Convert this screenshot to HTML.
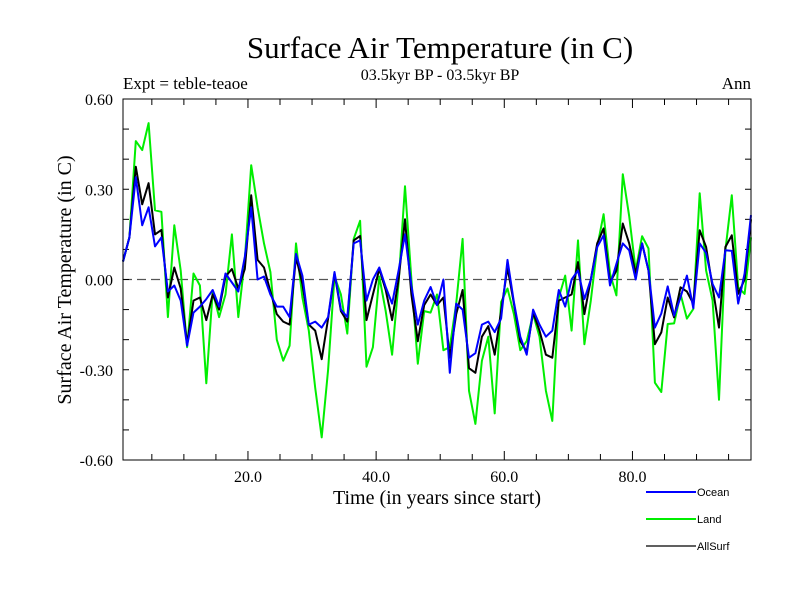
<!DOCTYPE html>
<html><head><meta charset="utf-8"><style>
body{margin:0;background:#fff;width:800px;height:600px;overflow:hidden}
svg text{font-family:"Liberation Serif",serif;fill:#000}
</style></head><body>
<svg id="chart" width="800" height="600" xmlns="http://www.w3.org/2000/svg">
<text x="440" y="58" font-size="31" text-anchor="middle">Surface Air Temperature (in C)</text>
<text x="440" y="80" font-size="16" text-anchor="middle">03.5kyr BP - 03.5kyr BP</text>
<text x="123" y="89" font-size="17">Expt = teble-teaoe</text>
<text x="751" y="89" font-size="17" text-anchor="end">Ann</text>
<text transform="translate(71,280) rotate(-90)" font-size="20" text-anchor="middle">Surface Air Temperature (in C)</text>
<text x="437" y="504" font-size="20" text-anchor="middle">Time (in years since start)</text>
<g id="axes"></g>
<g id="series"></g>
<rect x="123" y="99" width="628" height="361" fill="none" stroke="#000" stroke-width="1"/>
<g id="legend"></g>
</svg>
<script>
const yTicks=[0.6,0.3,0,-0.3,-0.6];
const yTickLabels=["0.60","0.30","0.00","-0.30","-0.60"];
const xTicks=[20,40,60,80];
const xTickLabels=["20.0","40.0","60.0","80.0"];
const seriesNames=["Land","AllSurf","Ocean"];
const ocean=[0.06,0.14,0.34,0.18,0.24,0.11,0.14,-0.04,-0.02,-0.07,-0.22,-0.11,-0.09,-0.065,-0.035,-0.09,0.02,-0.01,-0.04,0.075,0.24,0.0,0.01,-0.05,-0.09,-0.09,-0.125,0.085,0.013,-0.15,-0.14,-0.16,-0.125,0.025,-0.10,-0.125,0.12,0.13,-0.07,0.0,0.04,-0.025,-0.08,0.03,0.15,-0.02,-0.15,-0.07,-0.025,-0.085,0.0,-0.31,-0.08,-0.10,-0.26,-0.245,-0.15,-0.14,-0.175,-0.13,0.065,-0.075,-0.19,-0.25,-0.10,-0.15,-0.19,-0.17,-0.035,-0.09,0.0,0.03,-0.065,0.0,0.108,0.147,-0.02,0.052,0.12,0.097,0.0,0.12,0.03,-0.16,-0.113,-0.023,-0.12,-0.06,0.013,-0.095,0.12,0.088,-0.015,-0.06,0.097,0.095,-0.08,0.02,0.214];
const allsurf=[0.06,0.14,0.375,0.25,0.32,0.15,0.165,-0.06,0.04,-0.03,-0.215,-0.07,-0.06,-0.135,-0.05,-0.10,0.01,0.035,-0.03,0.035,0.28,0.065,0.04,-0.04,-0.115,-0.14,-0.15,0.075,-0.015,-0.15,-0.17,-0.265,-0.13,0.02,-0.105,-0.14,0.13,0.145,-0.135,-0.05,0.035,-0.035,-0.135,0.0,0.2,-0.05,-0.205,-0.085,-0.05,-0.085,-0.06,-0.26,-0.115,-0.035,-0.295,-0.31,-0.19,-0.155,-0.25,-0.105,0.04,-0.08,-0.205,-0.24,-0.11,-0.17,-0.25,-0.26,-0.07,-0.06,-0.05,0.058,-0.115,0.0,0.12,0.17,-0.01,0.03,0.186,0.12,0.02,0.12,0.03,-0.215,-0.176,-0.06,-0.126,-0.026,-0.04,-0.08,0.164,0.108,-0.026,-0.16,0.108,0.147,-0.048,0.0,0.2];
const land=[0.06,0.14,0.46,0.43,0.52,0.23,0.225,-0.125,0.18,0.03,-0.225,0.02,-0.02,-0.345,-0.04,-0.125,-0.05,0.15,-0.125,0.065,0.38,0.24,0.12,0.025,-0.2,-0.27,-0.22,0.12,-0.06,-0.17,-0.36,-0.525,-0.30,0.01,-0.05,-0.18,0.135,0.195,-0.29,-0.225,0.01,-0.105,-0.25,-0.01,0.31,0.0,-0.28,-0.105,-0.11,-0.05,-0.235,-0.225,-0.08,0.135,-0.37,-0.48,-0.27,-0.19,-0.445,-0.075,-0.03,-0.115,-0.235,-0.205,-0.115,-0.19,-0.37,-0.47,-0.06,0.013,-0.17,0.13,-0.215,-0.07,0.108,0.217,0.02,-0.053,0.35,0.21,0.03,0.144,0.103,-0.343,-0.374,-0.148,-0.146,-0.048,-0.13,-0.098,0.287,0.03,-0.07,-0.4,0.097,0.28,-0.026,-0.048,0.14];
const NS="http://www.w3.org/2000/svg";
const L=123,R=751,T=99,B=460;
const xMin=0.5,xMax=98.5,yMin=-0.6,yMax=0.6;
function xs(v){return L+(v-xMin)/(xMax-xMin)*(R-L);}
function ys(v){return B-(v-yMin)/(yMax-yMin)*(B-T);}
function mk(tag,attrs,parent){const e=document.createElementNS(NS,tag);for(const k in attrs)e.setAttribute(k,attrs[k]);parent.appendChild(e);return e;}
const axes=document.getElementById('axes');
// zero line
const z=mk('line',{x1:L,x2:R,y1:ys(0),y2:ys(0),stroke:'#555','stroke-width':1.2,'stroke-dasharray':'9,5'},axes);


// y minor ticks every 0.1
for(let k=-6;k<=6;k++){const v=k/10;
 const t1=mk('line',{x1:L,x2:L+6,y1:ys(v),y2:ys(v),stroke:'#000'},axes);
 
 
 const t2=mk('line',{x1:R-6,x2:R,y1:ys(v),y2:ys(v),stroke:'#000'},axes);
 
 }
yTicks.forEach((v,i)=>{const t=mk('text',{x:113,y:ys(v)+6,'font-size':16,'text-anchor':'end'},axes);t.textContent=yTickLabels[i];
 
 });
for(let yr=5;yr<=95;yr+=5){const len=(yr%20===0)?9:6;
 const t1=mk('line',{x1:xs(yr),x2:xs(yr),y1:B,y2:B-len,stroke:'#000'},axes);
 
 
 const t2=mk('line',{x1:xs(yr),x2:xs(yr),y1:T,y2:T+len,stroke:'#000'},axes);
 
 }
xTicks.forEach((v,i)=>{const t=mk('text',{x:xs(v),y:482,'font-size':16,'text-anchor':'middle'},axes);t.textContent=xTickLabels[i];
 
 });
const sg=document.getElementById('series');
function draw(arr,color,w,name){const pts=arr.map((v,i)=>xs(i+0.5).toFixed(1)+','+ys(v).toFixed(1)).join(' ');
 const p=mk('polyline',{points:pts,fill:'none',stroke:color,'stroke-width':w,'stroke-linejoin':'round'},sg);
 
 }
draw(land,'#00ee00',2,'land-line');
draw(allsurf,'#000',2,'allsurf-line');
draw(ocean,'#0000ff',2,'ocean-line');
const lg=document.getElementById('legend');
const legendItems=[["Ocean","#0000ff",492,2],["Land","#00ee00",519,2],["AllSurf","#000",546,1.3]];
legendItems.forEach(it=>{const g=mk('g',{},lg);
 
 
 mk('line',{x1:646,x2:696,y1:it[2],y2:it[2],stroke:it[1],'stroke-width':it[3]},g);
 const t=mk('text',{x:697,y:it[2]+4,'font-size':11,style:'font-family:"Liberation Sans",sans-serif'},g);t.textContent=it[0];});
</script>
</body></html>
